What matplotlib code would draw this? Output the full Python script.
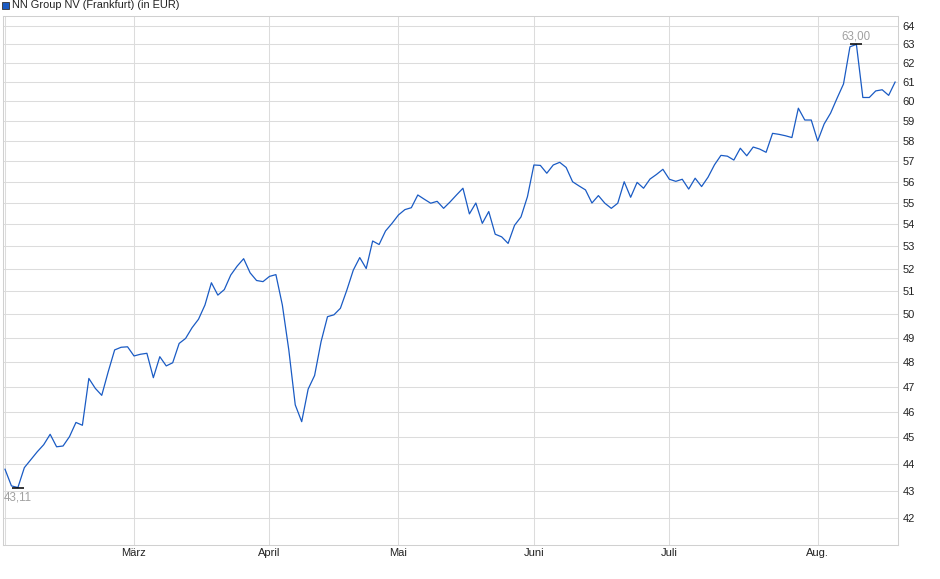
import matplotlib
matplotlib.use("Agg")
import matplotlib.pyplot as plt
from matplotlib.patches import Rectangle
from matplotlib.ticker import FixedLocator, NullLocator

plt.rcParams["font.family"] = ["Liberation Sans", "DejaVu Sans"]

TITLE = "NN Group NV (Frankfurt) (in EUR)"
LINE_C = "#1a5bc4"
GRID_C = "#dcdcdc"

# closing prices per trading day, Feb .. mid Aug
prices = [
    43.79, 43.17, 43.11, 43.85, 44.15, 44.45, 44.72, 45.12, 44.64, 44.67,
    45.03, 45.58, 45.47, 47.33, 46.93, 46.65, 47.60, 48.50, 48.61, 48.63,
    48.25, 48.32, 48.36, 47.36, 48.22, 47.84, 47.97, 48.77, 48.98, 49.43,
    49.79, 50.40, 51.37, 50.83, 51.07, 51.71, 52.11, 52.44, 51.81, 51.47,
    51.42, 51.65, 51.73, 50.40, 48.50, 46.27, 45.61, 46.90, 47.45, 48.84,
    49.90, 49.98, 50.26, 51.05, 51.93, 52.49, 52.00, 53.24, 53.08, 53.70,
    54.05, 54.44, 54.69, 54.78, 55.38, 55.18, 54.99, 55.08, 54.75, 55.05,
    55.38, 55.70, 54.49, 55.00, 54.05, 54.60, 53.55, 53.43, 53.13, 53.96,
    54.35, 55.30, 56.82, 56.80, 56.42, 56.82, 56.95, 56.70, 56.01, 55.81,
    55.62, 55.00, 55.35, 54.99, 54.75, 54.99, 56.01, 55.27, 55.98, 55.70,
    56.14, 56.36, 56.61, 56.13, 56.03, 56.13, 55.66, 56.18, 55.78, 56.23,
    56.83, 57.29, 57.25, 57.06, 57.64, 57.27, 57.70, 57.60, 57.44, 58.38,
    58.33, 58.26, 58.17, 59.65, 59.05, 59.05, 58.00, 58.85, 59.40, 60.16,
    60.90, 62.87, 63.00, 60.20, 60.20, 60.54, 60.60, 60.31, 61.00,
]

# trading-day index of the first session of each month
month_starts = [0, 20, 41, 61, 82, 103, 126]
month_labels = ["", "März", "April", "Mai", "Juni", "Juli", "Aug."]
y_ticks = list(range(42, 65))

W, H = 940, 579
fig = plt.figure(figsize=(W / 100, H / 100), dpi=100)
ax = fig.add_axes([3 / W, 1 - 545 / H, 895 / W, 529 / H])

x = list(range(len(prices)))
ax.plot(x, prices, color=LINE_C, lw=0.9, zorder=3)

ax.set_yscale("log")
ax.set_ylim(41.04, 64.55)
ax.set_xlim(-0.31, 138.45)

ax.yaxis.set_major_locator(FixedLocator(y_ticks))
ax.yaxis.set_minor_locator(NullLocator())
ax.set_yticklabels([str(v) for v in y_ticks])
ax.yaxis.tick_right()
ax.set_xticks(month_starts)
ax.set_xticklabels(month_labels)
ax.tick_params(axis="both", length=0, labelsize=8, colors="#222222")
ax.tick_params(axis="y", pad=3.5)
ax.tick_params(axis="x", pad=2.5)

ax.grid(True, color=GRID_C, lw=0.75, zorder=0)
for s in ax.spines.values():
    s.set_color("#d0d0d0")
    s.set_linewidth(0.75)

# high / low markers
lo = prices.index(min(prices))
hi = prices.index(max(prices))
for i, dy in [(lo, -7.5), (hi, 6)]:
    ax.plot(i, prices[i], marker="_", ms=9, mew=1.1, color="black", zorder=4)
    ax.annotate(f"{prices[i]:.2f}".replace(".", ","), (i, prices[i]),
                xytext=(0, dy), textcoords="offset points",
                ha="center", va="center", fontsize=8.3, color="#a0a0a0")

# legend-like header
fig.patches.append(Rectangle((2 / W, 1 - 9 / H), 7 / W, 7 / H,
                             transform=fig.transFigure, facecolor=LINE_C,
                             edgecolor="#333333", lw=0.6))
fig.text(12 / W, 1 - 5.5 / H, TITLE, ha="left", va="center",
         fontsize=7.9, color="#222222")

fig.savefig("out.png", dpi=100)
